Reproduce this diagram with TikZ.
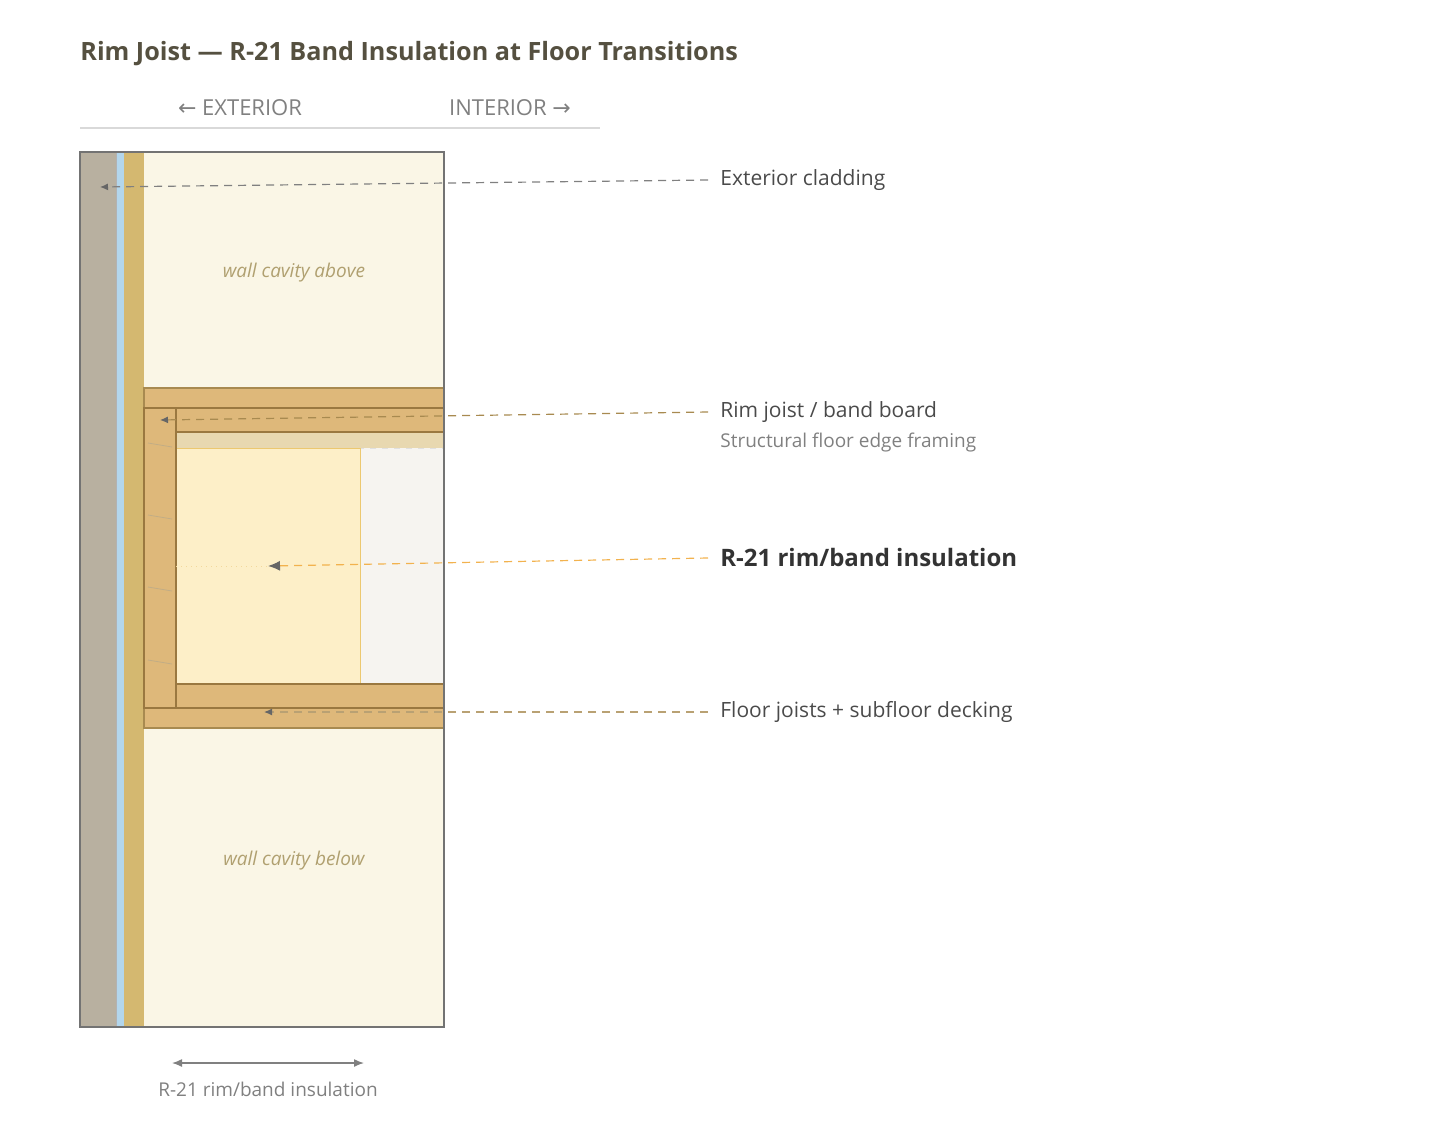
\documentclass[tikz,border=0pt]{standalone}
\usepackage{fontspec}
\setmainfont{Open Sans}
\newfontfamily\symf{DejaVu Sans}
\usetikzlibrary{arrows.meta}
\definecolor{clad}{HTML}{B8B0A0}
\definecolor{wrb}{HTML}{B3D6EC}
\definecolor{sheath}{HTML}{D4B870}
\definecolor{cav}{HTML}{FAF6E6}
\definecolor{wood}{HTML}{DEB87A}
\definecolor{woodline}{HTML}{A88A50}
\definecolor{rimline}{HTML}{9A7840}
\definecolor{sub}{HTML}{E8D8B0}
\definecolor{ins}{HTML}{FDEFC8}
\definecolor{insline}{HTML}{ECC870}
\definecolor{gap}{HTML}{F6F4F0}
\definecolor{txt}{HTML}{4A4A4A}
\definecolor{tit}{HTML}{555040}
\definecolor{cavtxt}{HTML}{B0A070}
\begin{document}
\begin{tikzpicture}[x=0.5pt,y=-0.5pt,
  lab/.style={anchor=west,text=txt,font=\fontsize{10.5}{12}\selectfont,inner sep=0},
  lead/.style={dashed,dash pattern=on 4pt off 3pt,line width=0.6pt},
  tip/.style={-{Latex[length=4pt,width=3.5pt,color=black!60]}}]
\useasboundingbox (0,0) rectangle (1440,1136);
\node[anchor=west,text=tit,font=\fontsize{12.6}{16}\selectfont\bfseries,inner sep=0] (title) at (80,54) {Rim Joist — R-21 Band Insulation at Floor Transitions};
\node[text=gray,font=\fontsize{11}{13}\selectfont,inner sep=0] (ext) at (240,108) {{\symf ←} EXTERIOR};
\node[text=gray,font=\fontsize{11}{13}\selectfont,inner sep=0] (int) at (510,108) {INTERIOR {\symf →}};
\draw[black!15,line width=0.7pt] (80,128) -- (600,128);
% layers
\fill[cav] (144,152) rectangle (444,1027);
\fill[clad] (80,152) rectangle (116,1027);
\fill[wrb] (116,152) rectangle (124,1027);
\draw[black!30,line width=0.4pt] (116,152) -- (116,1027) (124,152)--(124,1027);
\fill[sheath] (124,152) rectangle (144,1027);
% framing
\draw[woodline,fill=wood,line width=0.8pt] (144,388) rectangle (444,408);
\draw[woodline,fill=wood,line width=0.8pt] (144,708) rectangle (444,728);
\draw[fill=sub,draw=none] (176,432) rectangle (444,448);
\draw[fill=gap,draw=black!12,dashed,line width=0.5pt] (360,448) rectangle (444,684);
\draw[fill=ins,draw=insline,line width=0.5pt] (176,448) rectangle (360,684);
\draw[rimline,fill=wood,line width=0.8pt] (176,408) rectangle (444,432);
\draw[rimline,fill=wood,line width=0.8pt] (176,684) rectangle (444,708);
\draw[rimline,fill=wood,line width=1pt] (144,408) rectangle (176,708);
\foreach \y in {443,515,587,660} \draw[woodline!70,line width=0.4pt] (148,\y) -- (172,\y+4);
\draw[insline!70,dotted,line width=0.5pt] (176,566) -- (270,566);
\node[font=\fontsize{9.5}{11}\selectfont\itshape,text=cavtxt] (above) at (294,273) {wall cavity above};
\node[font=\fontsize{9.5}{11}\selectfont\itshape,text=cavtxt] (below) at (294,861) {wall cavity below};
\draw[black!55,line width=1pt] (80,152) rectangle (444,1027);
% labels
\node[lab] (l1) at (720,180) {Exterior cladding};
\node[lab] (l2) at (720,412) {Rim joist / band board};
\node[lab,text=gray,font=\fontsize{9.5}{11}\selectfont] (l2b) at (720,443) {Structural floor edge framing};
\node[lab,text=black!80,font=\fontsize{12}{15}\selectfont\bfseries] (l3) at (720,557) {R-21 rim/band insulation};
\node[lab] (l4) at (720,712) {Floor joists + subfloor decking};
\coordinate (t1) at (100,187);
\coordinate (t2) at (160,420);
\coordinate (t3) at (268,566);
\coordinate (t4) at (264,712);
\draw[lead,black!50,tip] (708,180) -- (t1);
\draw[lead,woodline,tip] (708,412) -- (t2);
\draw[lead,insline!70!orange,-{Latex[length=6pt,width=5pt,color=black!60]}] (708,558) -- (t3);
\draw[lead,woodline!80,tip] (708,712) -- (t4);
% dimension
\coordinate (d1) at (172,1063);
\coordinate (d2) at (364,1063);
\draw[gray,line width=0.7pt,{Latex[length=5pt,width=4pt]}-{Latex[length=5pt,width=4pt]}] (d1) -- (d2);
\node[text=gray,font=\fontsize{9.5}{11}\selectfont] (dl) at (268,1089) {R-21 rim/band insulation};
\end{tikzpicture}
\end{document}
